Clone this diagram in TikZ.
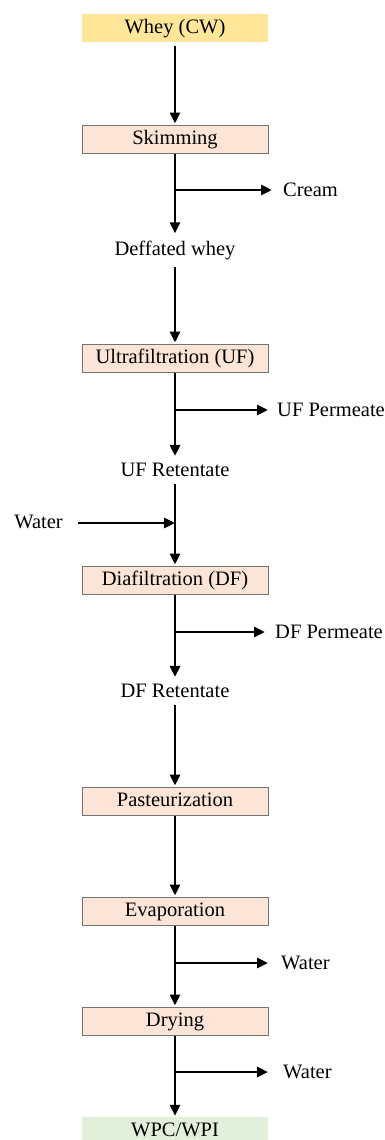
\documentclass[tikz,border=0pt]{standalone}
\usepackage{fontspec}
\setmainfont{Liberation Serif}
\usetikzlibrary{arrows.meta}
\definecolor{wheyfill}{HTML}{FFE699}
\definecolor{stepfill}{HTML}{FCE4D6}
\definecolor{prodfill}{HTML}{E2EFDA}
\tikzset{
  stepbox/.style={draw=black!55, line width=1pt, fill=stepfill, minimum width=186pt, minimum height=28pt, inner sep=0pt, text height=14pt, text depth=4pt},
  endbox/.style={minimum width=186pt, minimum height=28pt, inner sep=0pt, text height=14pt, text depth=4pt},
  flow/.style={line width=2.8pt, -{Triangle[length=11pt,width=10pt]}},
  lbl/.style={inner sep=0pt}
}
\begin{document}
\begin{tikzpicture}[x=1pt,y=-1pt,font=\fontsize{20.5}{24}\selectfont]
		\useasboundingbox (0,0) rectangle (385,1140);
		
		% main line of boxes
		\node[endbox, fill=wheyfill] (whey) at (175,28.5) {Whey (CW)};
		\node[stepbox] (skim) at (175,139) {Skimming};
		\node[stepbox] (uf) at (175,358) {Ultrafiltration (UF)};
		\node[stepbox] (df) at (175,580) {Diafiltration (DF)};
		\node[stepbox] (past) at (175,801) {Pasteurization};
		\node[stepbox] (evap) at (175,911) {Evaporation};
		\node[stepbox] (dry) at (175,1021) {Drying};
		\node[endbox, fill=prodfill] (wpc) at (175,1131) {WPC/WPI};
		
		% streams in between
		\node[lbl] (defwhey) at (175,250) {Deffated whey};
		\node[lbl] (ufret) at (175,470) {UF Retentate};
		\node[lbl] (dfret) at (175,691) {DF Retentate};
		
		% side streams
		\node[lbl, anchor=west] (cream) at (283,190) {Cream};
		\node[lbl, anchor=west] (ufperm) at (277,410) {UF Permeate};
		\node[lbl, anchor=east] (water0) at (63,522) {Water};
		\node[lbl, anchor=west] (dfperm) at (275,632) {DF Permeate};
		\node[lbl, anchor=west] (water1) at (281,963) {Water};
		\node[lbl, anchor=west] (water2) at (283,1072) {Water};
		
		\coordinate (b1) at (175,190);
		\coordinate (b2) at (175,410);
		\coordinate (b3) at (175,523);
		\coordinate (b4) at (175,632);
		\coordinate (b5) at (175,963);
		\coordinate (b6) at (175,1072);
		
		\draw[flow] ([yshift=-3pt]whey.south) -- ([yshift=1pt]skim.north);
		\draw[flow] (skim.south) -- ([yshift=7pt]defwhey.north);
		\draw[flow] ([yshift=-7pt]defwhey.south) -- ([yshift=1pt]uf.north);
		\draw[flow] (uf.south) -- ([yshift=7pt]ufret.north);
		\draw[flow] ([yshift=-7pt]ufret.south) -- ([yshift=1pt]df.north);
		\draw[flow] (df.south) -- ([yshift=7pt]dfret.north);
		\draw[flow] ([yshift=-7pt]dfret.south) -- ([yshift=1pt]past.north);
		\draw[flow] (past.south) -- ([yshift=1pt]evap.north);
		\draw[flow] (evap.south) -- ([yshift=1pt]dry.north);
		\draw[flow] (dry.south) -- ([yshift=1pt]wpc.north);
		
		\draw[flow] (b1) -- ([xshift=-11pt]cream.west);
		\draw[flow] (b2) -- ([xshift=-9pt]ufperm.west);
		\draw[flow] ([xshift=15pt]water0.east |- b3) -- (b3);
		\draw[flow] (b4) -- ([xshift=-10pt]dfperm.west);
		\draw[flow] (b5) -- ([xshift=-13pt]water1.west);
		\draw[flow] (b6) -- ([xshift=-15pt]water2.west);
		
		\end{tikzpicture}
\end{document}
